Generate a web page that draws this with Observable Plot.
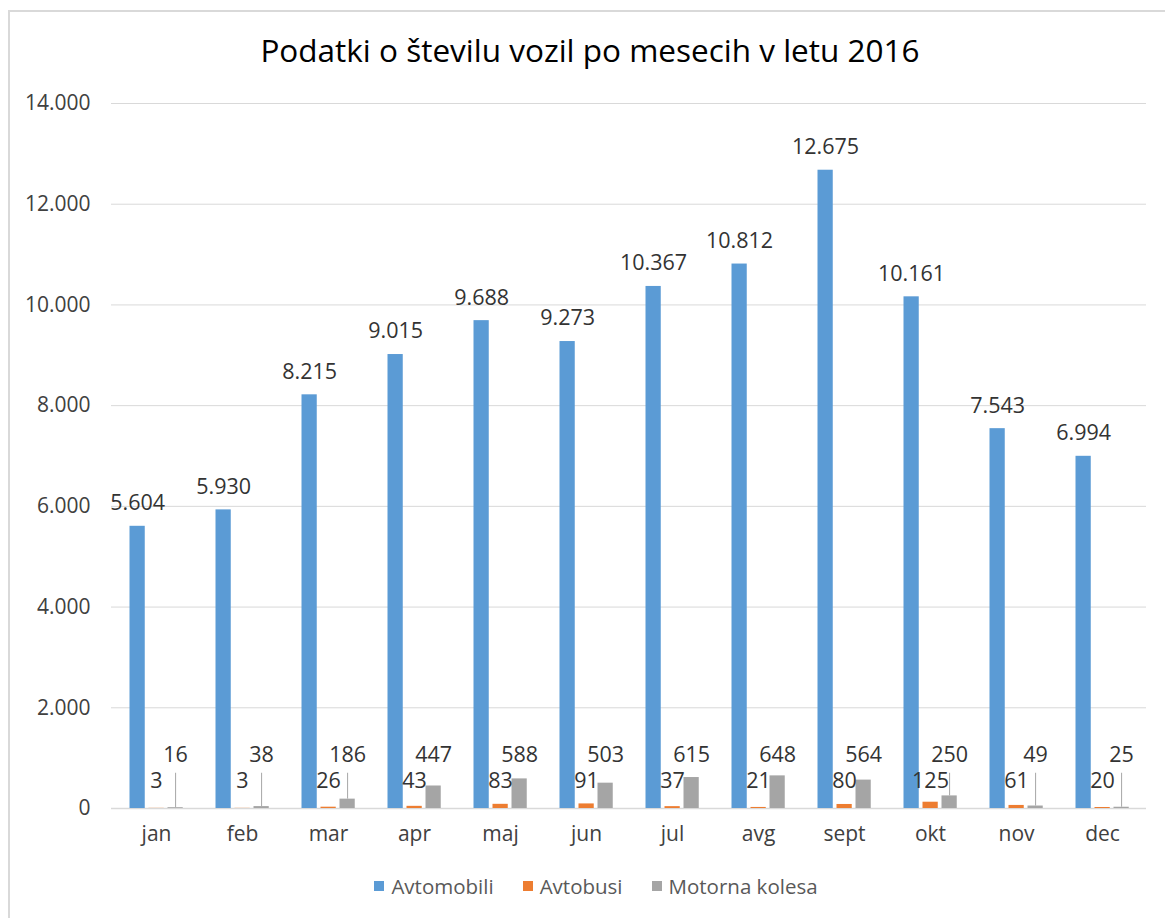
<!DOCTYPE html>
<html>
<head>
<meta charset="utf-8">
<script src="https://cdn.jsdelivr.net/npm/d3@7"></script>
<script src="https://cdn.jsdelivr.net/npm/@observablehq/plot@0.6"></script>
<style>
  html, body { margin: 0; padding: 0; background: #fff; overflow: hidden; }
  body { width: 1165px; height: 918px; position: relative; font-family: "Open Sans", sans-serif; }
  #frame { position: absolute; left: 8px; top: 10px; width: 1200px; height: 960px; border-left: 2px solid #d9d9d9; border-top: 2px solid #d9d9d9; }
  #title { position: absolute; left: 0; top: 30px; width: 1180px; text-align: center; font-size: 31.5px; line-height: 40px; color: #000; }
  #chart { position: absolute; left: 0; top: 80px; }
  #legend { position: absolute; left: 0; top: 874px; width: 1192px; display: flex; justify-content: center; gap: 29px; font-size: 20.5px; color: #595959; line-height: 24px; }
  #legend .item { display: flex; align-items: center; }
  #legend .sw { width: 10px; height: 10px; margin-right: 7px; }
</style>
</head>
<body>
<div id="frame"></div>
<div id="title">Podatki o številu vozil po mesecih v letu 2016</div>
<div id="chart"></div>
<div id="legend"></div>
<script>
const months = ["jan", "feb", "mar", "apr", "maj", "jun", "jul", "avg", "sept", "okt", "nov", "dec"];
const avtomobili = [5604, 5930, 8215, 9015, 9688, 9273, 10367, 10812, 12675, 10161, 7543, 6994];
const avtobusi = [3, 3, 26, 43, 83, 91, 37, 21, 80, 125, 61, 20];
const motornaKolesa = [16, 38, 186, 447, 588, 503, 615, 648, 564, 250, 49, 25];
const seriesNames = ["Avtomobili", "Avtobusi", "Motorna kolesa"];
const seriesColors = ["#5b9bd5", "#ed7d31", "#a5a5a5"];
const yTicks = [0, 2000, 4000, 6000, 8000, 10000, 12000, 14000];
const leaderMonths = ["jan", "feb", "mar", "okt", "nov", "dec"];
const leaderTop = 700;

const fmt = d3.formatLocale({decimal: ",", thousands: ".", grouping: [3], currency: ["", "€"]}).format(",d");

const rows = (vals) => months.map((m, i) => ({month: m, value: vals[i]}));
const carRows = rows(avtomobili);
const busRows = rows(avtobusi);
const motoRows = rows(motornaKolesa);
const leaderRows = motoRows.filter(d => leaderMonths.includes(d.month));

const labelColor = "#333333";
const axisColor = "#404040";

const chart = Plot.plot({
  width: 1165,
  height: 800,
  marginLeft: 111,
  marginRight: 19,
  marginTop: 23,
  marginBottom: 72,
  style: {fontFamily: "Open Sans, sans-serif", background: "transparent"},
  x: {domain: months, padding: 0},
  y: {domain: [0, 14000]},
  marks: [
    Plot.gridY(yTicks, {stroke: "#d9d9d9", strokeOpacity: 1}),
    Plot.axisY(yTicks, {tickSize: 0, tickPadding: 21, tickFormat: fmt, fontSize: 21, fill: axisColor, label: null}),
    Plot.axisX({tickSize: 0, tickPadding: 18, fontSize: 21, fill: axisColor, label: null}),
    Plot.ruleY([0], {stroke: "#d9d9d9", strokeWidth: 1.5}),
    Plot.barY(carRows, {x: "month", y: "value", fill: seriesColors[0], insetLeft: 16.5, insetRight: 54.25}),
    Plot.barY(busRows, {x: "month", y: "value", fill: seriesColors[1], insetLeft: 35.5, insetRight: 35.25}),
    Plot.barY(motoRows, {x: "month", y: "value", fill: seriesColors[2], insetLeft: 54.5, insetRight: 16.25}),
    Plot.ruleX(leaderRows, {x: "month", y1: "value", y2: () => leaderTop, dx: 19.1, stroke: "#a6a6a6", strokeWidth: 1}),
    Plot.text(carRows, {x: "month", y: "value", text: d => fmt(d.value), dx: -18.9, dy: -23, fontSize: 21.5, fill: labelColor}),
    Plot.text(busRows, {x: "month", y: () => 0, text: d => fmt(d.value), dx: 0, dy: -27, fontSize: 21.5, fill: labelColor}),
    Plot.text(motoRows, {x: "month", y: () => 0, text: d => fmt(d.value), dx: 19.1, dy: -53, fontSize: 21.5, fill: labelColor})
  ]
});
document.getElementById("chart").appendChild(chart);

const legend = document.getElementById("legend");
seriesNames.forEach((name, i) => {
  const item = document.createElement("div");
  item.className = "item";
  const sw = document.createElement("span");
  sw.className = "sw";
  sw.style.background = seriesColors[i];
  const t = document.createElement("span");
  t.textContent = name;
  item.appendChild(sw);
  item.appendChild(t);
  legend.appendChild(item);
});
</script>
</body>
</html>
